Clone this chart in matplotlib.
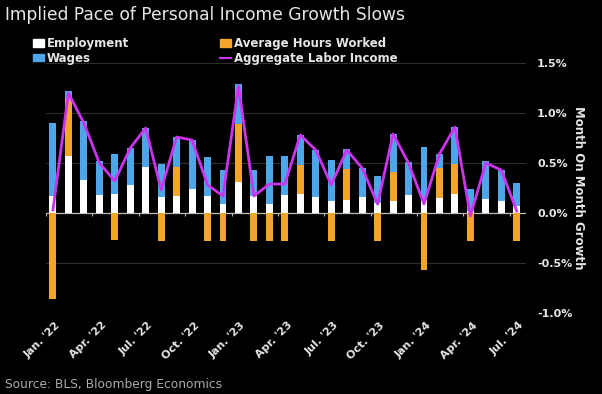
import numpy as np
import matplotlib
matplotlib.use("Agg")
import matplotlib.pyplot as plt
import matplotlib.transforms as mtransforms
from matplotlib.patches import Patch
from matplotlib.lines import Line2D

# monthly contributions, Jan 2022 - Jul 2024 (percentage points)
months = [f"{m} {y}" for y in (2022, 2023, 2024)
          for m in ("Jan", "Feb", "Mar", "Apr", "May", "Jun",
                    "Jul", "Aug", "Sep", "Oct", "Nov", "Dec")][:31]
employment = [0.17, 0.57, 0.33, 0.18, 0.19, 0.28, 0.46, 0.16, 0.17, 0.24, 0.17,
              0.09, 0.31, 0.17, 0.09, 0.18, 0.19, 0.16, 0.12, 0.13, 0.16, 0.10,
              0.12, 0.18, 0.13, 0.15, 0.19, 0.02, 0.14, 0.12, 0.07]
hours = [-0.86, 0.58, 0.0, 0.0, -0.27, 0.0, 0.0, -0.28, 0.29, 0.0, -0.28,
         -0.28, 0.58, -0.28, -0.28, -0.28, 0.29, 0.0, -0.28, 0.31, 0.0, -0.28,
         0.29, 0.0, -0.57, 0.30, 0.30, -0.28, 0.0, 0.0, -0.28]
wages = [0.73, 0.07, 0.59, 0.34, 0.40, 0.37, 0.39, 0.33, 0.30, 0.49, 0.39,
         0.34, 0.40, 0.26, 0.48, 0.39, 0.30, 0.47, 0.41, 0.20, 0.29, 0.27,
         0.38, 0.33, 0.53, 0.14, 0.37, 0.22, 0.38, 0.31, 0.23]
aggregate = [0.03, 1.20, 0.90, 0.50, 0.32, 0.65, 0.85, 0.23, 0.76, 0.73, 0.28,
             0.17, 1.27, 0.17, 0.29, 0.29, 0.78, 0.63, 0.28, 0.63, 0.45, 0.09,
             0.79, 0.50, 0.09, 0.59, 0.86, -0.03, 0.50, 0.43, 0.02]
tick_labels = ["Jan. '22", "Apr. '22", "Jul. '22", "Oct. '22",
               "Jan. '23", "Apr. '23", "Jul. '23", "Oct. '23",
               "Jan. '24", "Apr. '24", "Jul. '24"]

WHITE = "#ffffff"
ORANGE = "#f3a52a"
BLUE = "#4ea6ea"
PURPLE = "#cc33ee"
TXT = "#e6e6e6"

x = np.arange(len(employment))
emp = np.array(employment)
hrs = np.array(hours)
wag = np.array(wages)
hrs_pos = np.clip(hrs, 0, None)
hrs_neg = np.clip(hrs, None, 0)

fig = plt.figure(figsize=(6.02, 3.94), dpi=100, facecolor="black")
ax = fig.add_axes([0.0764, 0.2056, 0.7974, 0.6344], facecolor="black")

w = 0.45
ax.bar(x, emp, w, color=WHITE, zorder=3)
ax.bar(x, hrs_pos, w, bottom=emp, color=ORANGE, zorder=3)
ax.bar(x, wag, w, bottom=emp + hrs_pos, color=BLUE, zorder=3)
ax.bar(x, hrs_neg, w, color=ORANGE, zorder=3)
ax.plot(x, aggregate, color=PURPLE, lw=2, zorder=4)

ax.set_xlim(-0.45, 30.6)
ax.set_ylim(-1.0, 1.5)
yt = [-1.0, -0.5, 0.0, 0.5, 1.0, 1.5]
ax.set_yticks(yt)
ax.yaxis.tick_right()
ax.yaxis.set_label_position("right")
ax.set_yticklabels([f"{v:.1f}%" for v in yt],
                   fontweight="bold", fontsize=8, color=TXT)
ax.tick_params(axis="y", length=0, pad=8)
ax.grid(axis="y", color="#2e2e2e", lw=0.8, zorder=0)
ax.axhline(0, color="#bbbbbb", lw=0.9, zorder=2)
ax.set_ylabel("Month On Month Growth", rotation=270, labelpad=9,
              fontweight="bold", fontsize=8.5, color=TXT)

for s in ax.spines.values():
    s.set_visible(False)

# small ticks on the zero line, labels at the bottom
ticks = x[::3] - 0.45
ax.set_xticks(ticks)
ax.spines["bottom"].set_position(("data", 0))
ax.tick_params(axis="x", length=2.5, color="#bbbbbb", labelbottom=False)
sec = ax.secondary_xaxis("bottom")
sec.set_xticks(ticks)
sec.set_xticklabels(tick_labels, rotation=45, ha="right", va="top",
                    rotation_mode="anchor", fontweight="bold", fontsize=8,
                    color=TXT)
sec.tick_params(length=0, pad=5)
sec.spines["bottom"].set_visible(False)
shift = mtransforms.ScaledTranslation(0.09, 0, fig.dpi_scale_trans)
for lab in sec.get_xticklabels():
    lab.set_transform(lab.get_transform() + shift)

handles = [Patch(color=WHITE), Patch(color=BLUE), Patch(color=ORANGE),
           Line2D([], [], color=PURPLE, lw=1.5)]
labels = ["Employment", "Wages", "Average Hours Worked", "Aggregate Labor Income"]
leg = fig.legend(handles, labels, loc="upper left", bbox_to_anchor=(0.037, 0.933),
                 ncol=2, frameon=False, handlelength=0.9, handleheight=0.6,
                 handletextpad=0.25, columnspacing=7.75, labelspacing=0.15,
                 prop={"weight": "bold", "size": 8.5})
for t in leg.get_texts():
    t.set_color(TXT)

fig.text(0.008, 0.962, "Implied Pace of Personal Income Growth Slows",
         fontsize=12.3, color=TXT, va="center", ha="left")
fig.text(0.008, 0.025, "Source: BLS, Bloomberg Economics",
         fontsize=8.8, color="#aaaaaa", va="center", ha="left")

fig.savefig("out.png", dpi=100, facecolor="black")
